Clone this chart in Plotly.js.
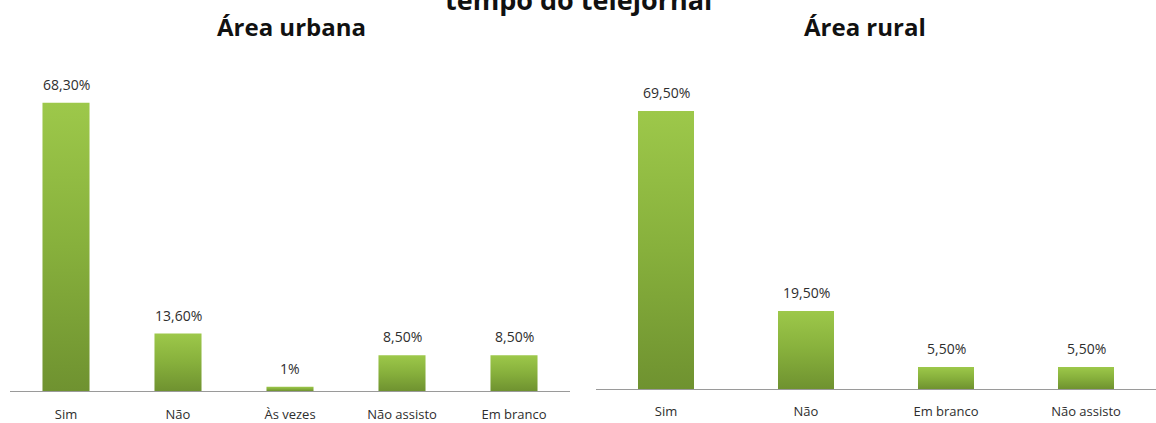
<!DOCTYPE html>
<html>
<head>
<meta charset="utf-8">
<script src="https://cdn.plot.ly/plotly-3.0.1.min.js"></script>
<style>
html,body{margin:0;padding:0;background:#fff;}
#chart{width:1156px;height:423px;}
</style>
</head>
<body>
<div id="chart"></div>
<script>
// Data
const mainTitle = "tempo do telejornal";
const urbanTitle = "Área urbana";
const ruralTitle = "Área rural";
const urbanCategories = ["Sim", "Não", "Às vezes", "Não assisto", "Em branco"];
const urbanValues = [68.3, 13.6, 1, 8.5, 8.5];
const urbanLabels = ["68,30%", "13,60%", "1%", "8,50%", "8,50%"];
const ruralCategories = ["Sim", "Não", "Em branco", "Não assisto"];
const ruralValues = [69.5, 19.5, 5.5, 5.5];
const ruralLabels = ["69,50%", "19,50%", "5,50%", "5,50%"];

const W = 1156, H = 423;
const labelFont = {family: "Open Sans, sans-serif", size: 14, color: "#2e2e2e"};
const tickFont = {family: "Open Sans, sans-serif", size: 13, color: "#2e2e2e"};
const titleFont = {family: "Open Sans, sans-serif", size: 24, color: "#111111", weight: 700};

const traces = [
  {type: "bar", x: urbanCategories, y: urbanValues, xaxis: "x", yaxis: "y",
   width: 0.42, marker: {color: "#86ad3c"}, hoverinfo: "none", showlegend: false},
  {type: "bar", x: ruralCategories, y: ruralValues, xaxis: "x2", yaxis: "y2",
   width: 0.4, marker: {color: "#86ad3c"}, hoverinfo: "none", showlegend: false}
];

const annotations = [];
urbanCategories.forEach((c, i) => annotations.push({
  xref: "x", yref: "y", x: c, y: urbanValues[i], text: urbanLabels[i],
  showarrow: false, xanchor: "center", yanchor: "bottom", yshift: 7, font: labelFont
}));
ruralCategories.forEach((c, i) => annotations.push({
  xref: "x2", yref: "y2", x: c, y: ruralValues[i], text: ruralLabels[i],
  showarrow: false, xanchor: "center", yanchor: "bottom", yshift: 7, font: labelFont
}));
annotations.push({xref: "paper", yref: "paper", x: 578 / W, y: 1 + 1 / H, xanchor: "center", yanchor: "middle",
  text: "<b>" + mainTitle + "</b>", showarrow: false, font: Object.assign({}, titleFont, {size: 27})});
annotations.push({xref: "paper", yref: "paper", x: 291 / W, y: 1 - 27 / H, xanchor: "center", yanchor: "middle",
  text: "<b>" + urbanTitle + "</b>", showarrow: false, font: titleFont});
annotations.push({xref: "paper", yref: "paper", x: 865 / W, y: 1 - 27 / H, xanchor: "center", yanchor: "middle",
  text: "<b>" + ruralTitle + "</b>", showarrow: false, font: titleFont});

const xCommon = {type: "category", showgrid: false, zeroline: false, showline: true,
  linecolor: "#9a9a9a", linewidth: 1, ticks: "", tickfont: tickFont, automargin: false, fixedrange: true};
const yCommon = {showgrid: false, zeroline: false, showline: false, showticklabels: false,
  ticks: "", automargin: false, fixedrange: true};

const layout = {
  width: W, height: H,
  margin: {l: 0, r: 0, t: 0, b: 0},
  paper_bgcolor: "#ffffff", plot_bgcolor: "#ffffff",
  showlegend: false,
  xaxis: Object.assign({}, xCommon, {domain: [10 / W, 570 / W], anchor: "y", ticklabelstandoff: 11}),
  yaxis: Object.assign({}, yCommon, {domain: [32 / H, 363 / H], range: [0, 331 / 4.22], anchor: "x"}),
  xaxis2: Object.assign({}, xCommon, {domain: [596 / W, 1], anchor: "y2", ticklabelstandoff: 10}),
  yaxis2: Object.assign({}, yCommon, {domain: [34 / H, 363 / H], range: [0, 329 / 4.0], anchor: "x2"}),
  annotations: annotations
};

Plotly.newPlot("chart", traces, layout, {displayModeBar: false, staticPlot: true}).then(gd => {
  // Apply a vertical gradient fill to the library-drawn bars
  const svg = gd.querySelector("svg.main-svg");
  const ns = "http://www.w3.org/2000/svg";
  let defs = svg.querySelector("defs");
  if (!defs) { defs = document.createElementNS(ns, "defs"); svg.insertBefore(defs, svg.firstChild); }
  const grad = document.createElementNS(ns, "linearGradient");
  grad.setAttribute("id", "barGrad");
  grad.setAttribute("x1", "0"); grad.setAttribute("y1", "0");
  grad.setAttribute("x2", "0"); grad.setAttribute("y2", "1");
  [["0", "#9dc84a"], ["0.5", "#87b03c"], ["1", "#6f9230"]].forEach(([o, c]) => {
    const s = document.createElementNS(ns, "stop");
    s.setAttribute("offset", o); s.setAttribute("stop-color", c);
    grad.appendChild(s);
  });
  defs.appendChild(grad);
  gd.querySelectorAll(".bars .point path").forEach(p => { p.style.fill = "url(#barGrad)"; });
});
</script>
</body>
</html>
